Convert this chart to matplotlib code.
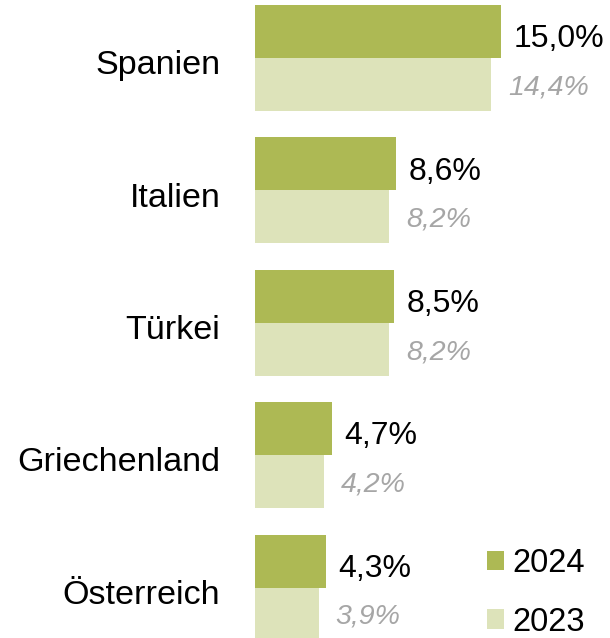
import matplotlib.pyplot as plt
import matplotlib.transforms as mtransforms
import numpy as np

plt.rcParams['font.family'] = ['Liberation Sans', 'DejaVu Sans']

# data
countries = ['Spanien', 'Italien', 'Türkei', 'Griechenland', 'Österreich']
share_2024 = [15.0, 8.6, 8.5, 4.7, 4.3]
share_2023 = [14.4, 8.2, 8.2, 4.2, 3.9]
years = ['2024', '2023']

c24 = '#ADB954'
c23 = '#DDE3BA'

fig = plt.figure(figsize=(6.1, 6.38), dpi=100)
ax = fig.add_axes([255 / 610, 0, 355 / 610, 1])

y = np.arange(len(countries))
h = 0.4
b24 = ax.barh(y - h / 2, share_2024, height=h, color=c24, label=years[0])
b23 = ax.barh(y + h / 2, share_2023, height=h, color=c23, label=years[1])

fmt = lambda v: f'{v:.1f}%'.replace('.', ',')
for bar, v in zip(b24, share_2024):
    ax.annotate(fmt(v), (bar.get_width(), bar.get_y() + bar.get_height() / 2),
                xytext=(9, -5.5), textcoords='offset points', va='center', ha='left',
                fontsize=23, color='black')
for bar, v in zip(b23, share_2023):
    ax.annotate(fmt(v), (bar.get_width(), bar.get_y() + bar.get_height() / 2),
                xytext=(12, -2), textcoords='offset points', va='center', ha='left',
                fontsize=20.5, color='#A6A6A6', style='italic')

ax.set_xlim(0, 21.65)
ax.set_ylim(4.38, -0.438)
ax.set_yticks(y)
ax.set_yticklabels(countries, fontsize=24.6)
ax.tick_params(axis='y', length=0, pad=25)
shift = mtransforms.ScaledTranslation(0, -3 / 72, fig.dpi_scale_trans)
for lab in ax.get_yticklabels():
    lab.set_transform(lab.get_transform() + shift)
ax.set_xticks([])
for s in ax.spines.values():
    s.set_visible(False)

ax.legend(loc='lower right', bbox_to_anchor=(0.986, -0.03), frameon=False, fontsize=23.5,
          handlelength=0.52, handleheight=0.52, handletextpad=0.28, labelspacing=0.84,
          borderaxespad=0.2)

fig.savefig('out.png', dpi=100)
